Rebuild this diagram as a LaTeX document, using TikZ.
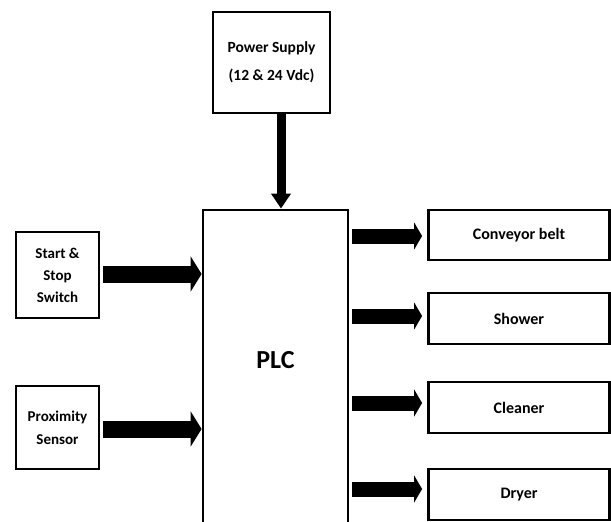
\documentclass[tikz,border=0pt]{standalone}
\usepackage{fontspec}
\setmainfont{Carlito}
\usetikzlibrary{arrows.meta}
\tikzstyle{block}=[rectangle,draw=black,line width=2.8pt,fill=white,align=center,inner sep=0pt,font=\bfseries\fontsize{16}{22.5}\selectfont]
\tikzstyle{fatin}=[line width=17pt,-{Triangle[length=11pt,width=35pt]}]
\tikzstyle{fatout}=[line width=15pt,-{Triangle[length=8pt,width=27pt]}]
\tikzstyle{fatdown}=[line width=9pt,-{Triangle[length=15pt,width=19pt]}]

\begin{document}
\begin{tikzpicture}[x=1pt,y=-1pt]
    \clip (0,0) rectangle (611,522);
    \fill[white] (0,0) rectangle (611,522);

    % controller and supply
    \node [block,minimum width=145pt,minimum height=340pt] (plc) at (275.5,380) {};
    \node [font=\bfseries\fontsize{26}{30}\selectfont] (plclabel) at (275.5,360) {PLC};
    \node [block,minimum width=117pt,minimum height=101pt,font=\bfseries\fontsize{15.5}{28}\selectfont] (power) at (271.5,62.5) {Power Supply\\(12 \& 24 Vdc)};

    % inputs
    \node [block,minimum width=83pt,minimum height=86pt,font=\bfseries\fontsize{15}{22}\selectfont] (start) at (57.5,275) {Start \&\\Stop\\Switch};
    \node [block,minimum width=83pt,minimum height=83pt,font=\bfseries\fontsize{15}{23}\selectfont] (prox)  at (57.5,427.5) {Proximity\\Sensor};

    % outputs
    \node [block,minimum width=181pt,minimum height=50pt] (conveyor) at (519,235)   {Conveyor belt};
    \node [block,minimum width=181pt,minimum height=51pt] (shower)   at (519,318.5) {Shower};
    \node [block,minimum width=181pt,minimum height=51pt] (cleaner)  at (519,407.5) {Cleaner};
    \node [block,minimum width=181pt,minimum height=51pt] (dryer)    at (519,494.5) {Dryer};

    \draw [fatdown] ([xshift=9.5pt]power.south) -- ([xshift=5.5pt]plc.north);

    \draw [fatin,shorten <=3pt] ([yshift=1pt]start.east) -- ([yshift=1pt]start.east -| plc.west);
    \draw [fatin,shorten <=3pt] ([yshift=-1.5pt]prox.east) -- ([yshift=-1.5pt]prox.east -| plc.west);

    \draw [fatout,shorten <=3pt,shorten >=5pt] ([yshift=-1pt]conveyor.west -| plc.east) -- ([yshift=-1pt]conveyor.west);
    \draw [fatout,shorten <=3pt,shorten >=5pt] ([yshift=2.5pt]shower.west -| plc.east) -- ([yshift=2.5pt]shower.west);
    \draw [fatout,shorten <=3pt,shorten >=5pt] ([yshift=4.5pt]cleaner.west -| plc.east) -- ([yshift=4.5pt]cleaner.west);
    \draw [fatout,shorten <=3pt,shorten >=5pt] ([yshift=5.5pt]dryer.west -| plc.east) -- ([yshift=5.5pt]dryer.west);
\end{tikzpicture}
\end{document}
